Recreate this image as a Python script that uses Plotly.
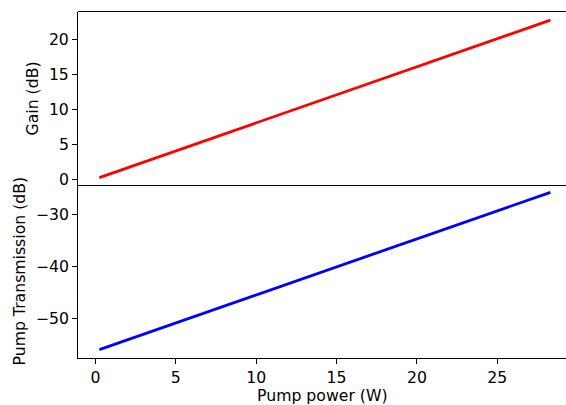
import plotly.graph_objects as go
from plotly.subplots import make_subplots

pump_power = [0.25, 5, 10, 15, 20, 25, 28.3]
gain_db = [0.29, 4.09, 8.08, 12.08, 16.07, 20.07, 22.7]
pump_trans_db = [-55.9, -50.79, -45.43, -40.07, -34.70, -29.34, -25.8]

x_ticks = [0, 5, 10, 15, 20, 25]
gain_ticks = [0, 5, 10, 15, 20]
trans_ticks = [-50, -40, -30]

FONT = "DejaVu Sans"
FS = 15.7

fig = make_subplots(rows=2, cols=1, shared_xaxes=True, vertical_spacing=0)
fig.add_trace(go.Scatter(x=pump_power, y=gain_db, mode="lines",
                         line=dict(color="#ff0000", width=2.8), showlegend=False), row=1, col=1)
fig.add_trace(go.Scatter(x=pump_power, y=pump_trans_db, mode="lines",
                         line=dict(color="#0000ff", width=2.8), showlegend=False), row=2, col=1)

axis_common = dict(showgrid=False, zeroline=False, showline=True, linecolor="black",
                   linewidth=1, ticks="outside", ticklen=5, tickwidth=1, tickcolor="black",
                   tickfont=dict(family=FONT, size=FS, color="black"))

fig.update_xaxes(range=[-1.08, 29.27], **axis_common)
fig.update_xaxes(showticklabels=False, ticks="", row=1, col=1)
fig.update_xaxes(tickvals=x_ticks, row=2, col=1)
fig.update_yaxes(range=[-0.76, 23.86], tickvals=gain_ticks, row=1, col=1, **axis_common)
fig.update_yaxes(range=[-57.5, -24.4], tickvals=trans_ticks, row=2, col=1, **axis_common)

plot_h = 405 - 12 - 47

fig.update_layout(
    width=566, height=405,
    margin=dict(l=78, r=0, t=12, b=47),
    plot_bgcolor="white", paper_bgcolor="white",
    font=dict(family=FONT, size=FS, color="black"),
    shapes=[
        dict(type="line", xref="paper", yref="paper", x0=0, x1=1,
             y0=1 + 0.5 / plot_h, y1=1 + 0.5 / plot_h,
             line=dict(color="black", width=1)),
    ],
    annotations=[
        dict(text="Gain (dB)", xref="paper", yref="paper", x=0, y=0.75, xanchor="center",
             yanchor="middle", xshift=-46, textangle=-90, showarrow=False,
             font=dict(family=FONT, size=FS)),
        dict(text="Pump Transmission (dB)", xref="paper", yref="paper", x=0, y=0.25,
             xanchor="center", yanchor="middle", xshift=-59, textangle=-90, showarrow=False,
             font=dict(family=FONT, size=FS)),
        dict(text="Pump power (W)", xref="paper", yref="paper", x=0.5, y=0,
             xanchor="center", yanchor="middle", yshift=-37, showarrow=False,
             font=dict(family=FONT, size=FS)),
    ],
)

fig.write_html("out.html", config={"displayModeBar": False},
               post_script="document.body.style.margin='0';document.body.style.overflow='hidden';")
